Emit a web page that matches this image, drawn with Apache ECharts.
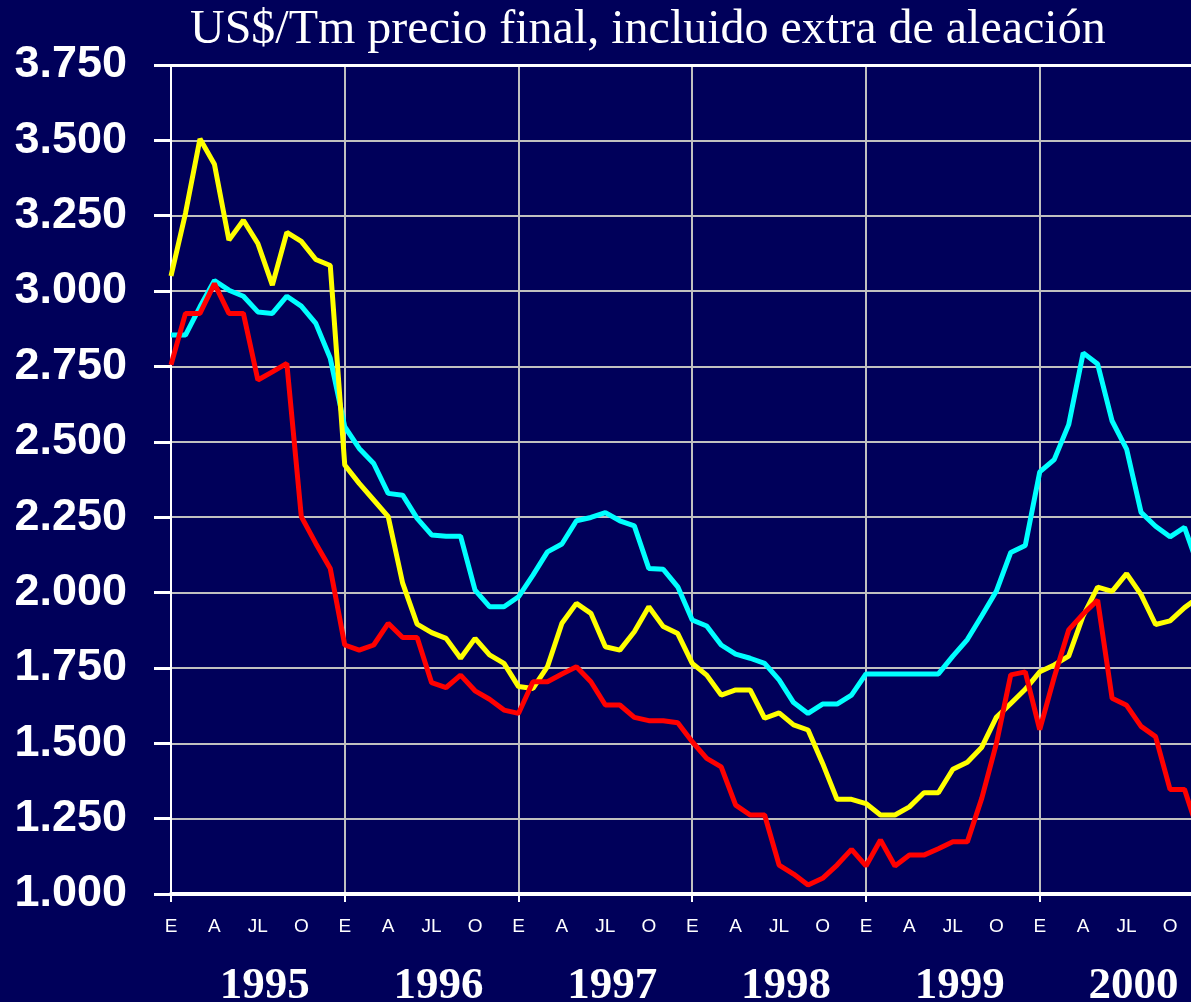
<!DOCTYPE html>
<html>
<head>
<meta charset="utf-8">
<script src="https://cdn.jsdelivr.net/npm/echarts@6/dist/echarts.min.js"></script>
<style>
html,body{margin:0;padding:0;background:#00005a;overflow:hidden;}
#chart{width:1191px;height:1002px;}
</style>
</head>
<body>
<div id="chart"></div>
<script>
// ---- data ----
const years = ['1995','1996','1997','1998','1999','2000'];
const monthNames = ['E','F','M','A','MY','J','JL','AG','S','O','N','D'];
const shownMonths = ['E','A','JL','O'];
const titleText = 'US$/Tm precio final, incluido extra de aleación';

const yellowSeries = [3050,3258,3505,3421,3169,3235,3158,3020,3195,3165,3105,3085,
  2423,2362,2307,2252,2031,1895,1867,1848,1782,1848,1793,1765,
  1688,1682,1754,1898,1964,1931,1820,1809,1870,1953,1887,1864,
  1765,1726,1660,1677,1677,1583,1601,1561,1544,1434,1314,1314,
  1300,1262,1262,1289,1336,1336,1414,1437,1487,1586,1632,1679,
  1737,1760,1789,1923,2018,2004,2063,1993,1894,1906,1950,1985];
const cyanSeries = [2854,2854,2948,3035,3003,2983,2931,2926,2983,2950,2893,2777,
  2550,2478,2428,2329,2323,2246,2191,2187,2187,2008,1953,1953,
  1986,2058,2135,2161,2238,2249,2265,2238,2221,2080,2077,2019,
  1909,1889,1826,1796,1782,1765,1710,1635,1599,1630,1630,1660,
  1730,1730,1730,1730,1730,1730,1789,1844,1923,2004,2133,2156,
  2400,2441,2557,2795,2758,2569,2476,2266,2220,2185,2216,2080];
const redSeries = [2755,2926,2926,3025,2926,2926,2705,2732,2760,2252,2163,2080,
  1826,1809,1826,1898,1851,1851,1701,1685,1726,1674,1646,1610,
  1599,1704,1704,1730,1754,1704,1627,1627,1586,1575,1575,1568,
  1505,1450,1422,1295,1262,1262,1096,1066,1030,1052,1096,1148,
  1093,1179,1093,1129,1129,1150,1173,1173,1318,1498,1727,1737,
  1545,1719,1876,1929,1975,1649,1626,1556,1522,1347,1347,1200];

const categories = [];
years.forEach(y => monthNames.forEach(m => categories.push(m + ' ' + y)));

// ---- chart ----
const chart = echarts.init(document.getElementById('chart'), null, {renderer:'canvas'});
const white = '#ffffff';
const gridGrey = '#c0c0c0';

chart.setOption({
  backgroundColor: '#00005a',
  animation: false,
  title: {
    text: titleText,
    left: 185, top: 1,
    textStyle: {color: white, fontFamily: "'Liberation Serif', serif", fontWeight: 'normal', fontSize: 48}
  },
  grid: {left: 171, top: 65, bottom: 108, right: -8, containLabel: false, outerBoundsMode: 'none'},
  xAxis: [
    {
      type: 'category', data: categories, boundaryGap: false, position: 'bottom',
      axisLine: {show: true, lineStyle: {color: white, width: 4}},
      axisTick: {show: true, length: 8, interval: (i) => i % 12 === 0, lineStyle: {color: white, width: 2}},
      splitLine: {show: true, interval: (i) => i % 12 === 0, lineStyle: {color: gridGrey, width: 2}},
      axisLabel: {
        show: true, color: white, fontSize: 19, margin: 23,
        fontFamily: "'Liberation Sans Narrow', 'Arial Narrow', 'Liberation Sans', sans-serif",
        interval: (i, v) => shownMonths.indexOf(v.split(' ')[0]) >= 0,
        formatter: (v) => v.split(' ')[0]
      }
    },
    {
      type: 'category', data: categories, boundaryGap: false, position: 'bottom',
      axisLine: {show: false}, axisTick: {show: false}, splitLine: {show: false},
      axisLabel: {
        show: true, color: white, fontSize: 45, fontWeight: 'bold', margin: 70,
        fontFamily: "'Liberation Serif', serif", padding: [0,0,0,14],
        interval: (i) => i % 12 === 6,
        formatter: (v) => v.split(' ')[1]
      }
    },
    {
      type: 'category', data: categories, boundaryGap: false, position: 'top',
      axisLine: {show: true, lineStyle: {color: white, width: 3}},
      axisTick: {show: false}, axisLabel: {show: false}, splitLine: {show: false}
    }
  ],
  yAxis: {
    type: 'value', min: 1000, max: 3750, interval: 250,
    axisLine: {show: true, lineStyle: {color: white, width: 2}},
    axisTick: {show: true, length: 17, lineStyle: {color: white, width: 3}},
    splitLine: {show: true, lineStyle: {color: gridGrey, width: 2}},
    axisLabel: {
      color: white, fontSize: 45, fontWeight: 'bold', margin: 44,
      fontFamily: "'Liberation Sans', Arial, sans-serif",
      formatter: (v) => String(v).replace(/\B(?=(\d{3})+(?!\d))/g, '.')
    }
  },
  series: [
    {name: 'cyan', type: 'line', data: cyanSeries, showSymbol: false, symbol: 'none',
     lineStyle: {color: '#00ffff', width: 5}, z: 3},
    {name: 'yellow', type: 'line', data: yellowSeries, showSymbol: false, symbol: 'none',
     lineStyle: {color: '#ffff00', width: 5}, z: 4},
    {name: 'red', type: 'line', data: redSeries, showSymbol: false, symbol: 'none',
     lineStyle: {color: '#ff0000', width: 5}, z: 5}
  ]
});
</script>
</body>
</html>
